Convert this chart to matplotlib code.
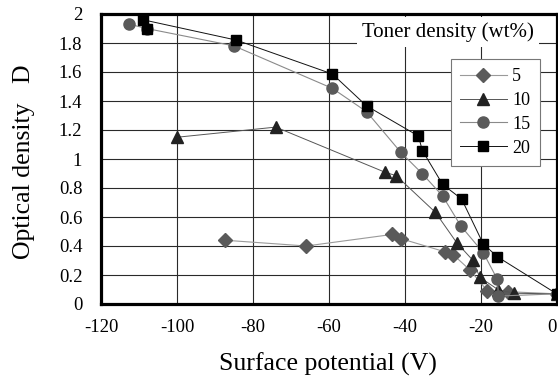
import matplotlib
matplotlib.use("Agg")
import matplotlib.pyplot as plt
from matplotlib.lines import Line2D

plt.rcParams['font.family'] = ['Liberation Serif', 'DejaVu Serif']

# Data (surface potential V, optical density D)
x5 = [-87.5, -66, -43.3, -41, -29.5, -27.3, -22.9, -18.3, -13, 0]
y5 = [0.44, 0.40, 0.48, 0.45, 0.36, 0.34, 0.234, 0.09, 0.085, 0.07]

x10 = [-100, -74, -45.2, -42.3, -32, -26.4, -22.2, -20.3, -15.4, -11.3, 0]
y10 = [1.15, 1.22, 0.908, 0.885, 0.632, 0.423, 0.303, 0.184, 0.097, 0.074, 0.07]

x15 = [-112.6, -108, -85, -59.1, -50.1, -41.1, -35.5, -30.1, -25.3, -19.4, -15.7, -15.4, 0]
y15 = [1.93, 1.90, 1.78, 1.487, 1.326, 1.046, 0.90, 0.745, 0.538, 0.354, 0.17, 0.055, 0.07]

x20 = [-108, -108.9, -84.4, -59.1, -50.1, -36.5, -35.4, -30.1, -25.1, -19.4, -15.7, 0]
y20 = [1.90, 1.96, 1.82, 1.586, 1.366, 1.159, 1.057, 0.825, 0.724, 0.414, 0.326, 0.069]

labels = ['5', '10', '15', '20']
xticks = [-120, -100, -80, -60, -40, -20, 0]
yticks = [0, 0.2, 0.4, 0.6, 0.8, 1, 1.2, 1.4, 1.6, 1.8, 2]
ytick_labels = ['0', '0.2', '0.4', '0.6', '0.8', '1', '1.2', '1.4', '1.6', '1.8', '2']

styles = [
    dict(marker='D', ms=7, mfc='#5a5a5a', mec='#5a5a5a', color='#9a9a9a', lw=0.8),
    dict(marker='^', ms=8.5, mfc='#222222', mec='#222222', color='#555555', lw=0.7),
    dict(marker='o', ms=8, mfc='#5a5a5a', mec='#5a5a5a', color='#8a8a8a', lw=0.8),
    dict(marker='s', ms=7.5, mfc='#000000', mec='#000000', color='#111111', lw=0.7),
]

fig = plt.figure(figsize=(5.58, 3.85), dpi=100)
ax = fig.add_axes([101/558, 1-304/385, 456/558, 290/385])

series = [(x5, y5), (x10, y10), (x15, y15), (x20, y20)]
handles = []
for (xs, ys), st, lab in zip(series, styles, labels):
    ax.plot(xs, ys, clip_on=False, zorder=3, **st)
    handles.append(Line2D([], [], label=lab, **st))

ax.set_xlim(-120, 0)
ax.set_ylim(0, 2)
ax.set_xticks(xticks)
ax.set_xticklabels([str(v) for v in xticks])
ax.set_yticks(yticks)
ax.set_yticklabels(ytick_labels)
ax.grid(True, color='#2a2a2a', lw=0.8)
ax.set_axisbelow(True)
ax.tick_params(length=0, labelsize=13.5)
ax.tick_params(axis='y', pad=13.5)
ax.tick_params(axis='x', pad=11)
ax.get_xticklabels()[-1].set_horizontalalignment('right')
for sp in ax.spines.values():
    sp.set_linewidth(2.3)
    sp.set_color('black')
    sp.set_zorder(5)

ax.set_xlabel('Surface potential (V)', fontsize=18.5)
ax.set_ylabel('Optical density   D', fontsize=18.5)
ax.xaxis.set_label_coords(0.497, -0.168)
ax.yaxis.set_label_coords(-0.145, 0.49)

ax.text(0.761, 0.938, 'Toner density (wt%)', transform=ax.transAxes,
        ha='center', va='center', fontsize=15, zorder=4,
        bbox=dict(facecolor='white', edgecolor='none', pad=3.5))

leg = ax.legend(handles=handles, loc='upper left',
                bbox_to_anchor=(0.7675, 0.845), borderaxespad=0,
                fontsize=13, frameon=True, fancybox=False,
                handlelength=2.6, handletextpad=0.3, labelspacing=0.38,
                borderpad=0.5)
leg.get_frame().set_edgecolor('#777777')
leg.get_frame().set_linewidth(0.8)
leg.get_frame().set_facecolor('white')
leg.get_frame().set_alpha(1)
leg.set_zorder(4)

fig.savefig('out.png', dpi=100)
